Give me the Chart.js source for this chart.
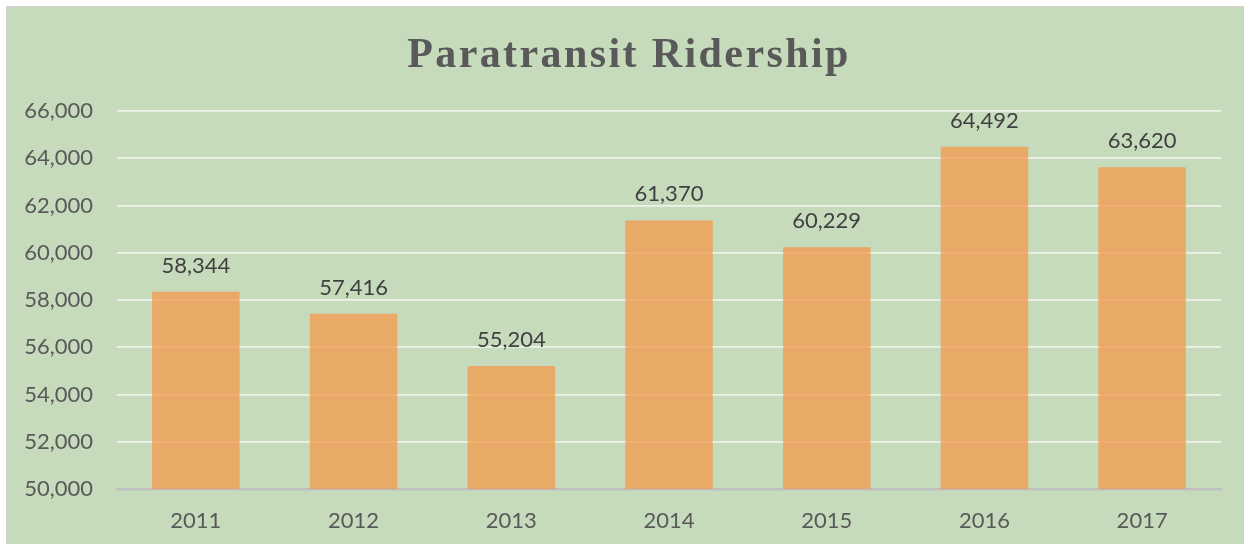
<!DOCTYPE html>
<html>
<head>
<meta charset="utf-8">
<script src="https://cdn.jsdelivr.net/npm/chart.js@4.4.0/dist/chart.umd.min.js"></script>
<style>
  html, body { margin: 0; padding: 0; background: #ffffff; width: 1244px; height: 544px; overflow: hidden; }
  #box { position: absolute; left: 6px; top: 6px; width: 1238px; height: 538px; background: #c6dabc; border-left: 1px solid #d3d3d3; border-top: 1px solid #d3d3d3; }
  #c { display: block; }
</style>
</head>
<body>
<div id="box"><canvas id="c" width="1238" height="538"></canvas></div>
<script>
const categories = ["2011", "2012", "2013", "2014", "2015", "2016", "2017"];
const ridership = [58344, 57416, 55204, 61370, 60229, 64492, 63620];
const yTicks = [50000, 52000, 54000, 56000, 58000, 60000, 62000, 64000, 66000];
const chartTitle = "Paratransit Ridership";

const fmt = v => Number(v).toLocaleString('en-US');

const valueLabels = {
  id: 'valueLabels',
  afterDatasetsDraw(chart) {
    const ctx = chart.ctx;
    const meta = chart.getDatasetMeta(0);
    ctx.save();
    ctx.font = '22px Lato';
    ctx.fillStyle = '#404040';
    ctx.textAlign = 'center';
    ctx.textBaseline = 'alphabetic';
    meta.data.forEach((bar, i) => {
      ctx.fillText(fmt(chart.data.datasets[0].data[i]), bar.x, bar.y - 19);
    });
    ctx.restore();
  }
};

const titleDraw = {
  id: 'titleDraw',
  afterDraw(chart) {
    const ctx = chart.ctx;
    ctx.save();
    ctx.font = 'bold 42px "Liberation Serif", serif';
    if ('letterSpacing' in ctx) ctx.letterSpacing = '2.4px';
    ctx.fillStyle = '#595959';
    ctx.textAlign = 'center';
    ctx.textBaseline = 'alphabetic';
    ctx.fillText(chartTitle, 622, 60);
    ctx.restore();
  }
};

new Chart(document.getElementById('c'), {
  type: 'bar',
  data: {
    labels: categories,
    datasets: [{
      data: ridership,
      backgroundColor: 'rgba(247,150,70,0.72)',
      borderWidth: 0,
      barPercentage: 0.555,
      categoryPercentage: 1.0
    }]
  },
  options: {
    responsive: false,
    animation: false,
    devicePixelRatio: 1,
    layout: { padding: { left: 0, right: 24, top: 104, bottom: 12 } },
    plugins: {
      legend: { display: false },
      tooltip: { enabled: false },
      title: { display: false }
    },
    scales: {
      x: {
        afterFit(scale) { scale.height = 44; },
        grid: { display: false, drawTicks: false },
        border: { display: true, color: '#bfbfbf', width: 2.5 },
        ticks: { color: '#595959', font: { family: 'Lato', size: 22 }, padding: 19 }
      },
      y: {
        min: 50000,
        max: 66000,
        afterBuildTicks(scale) { scale.ticks = yTicks.map(v => ({ value: v })); },
        afterFit(scale) { scale.width = 110; },
        grid: {
          drawTicks: false,
          color: ctx => (ctx.tick && ctx.tick.value === 50000) ? 'rgba(0,0,0,0)' : '#eef2ea',
          lineWidth: 1.8
        },
        border: { display: false },
        ticks: {
          color: '#595959',
          font: { family: 'Lato', size: 22 },
          padding: 24,
          callback: v => fmt(v)
        }
      }
    }
  },
  plugins: [valueLabels, titleDraw]
});
</script>
</body>
</html>
